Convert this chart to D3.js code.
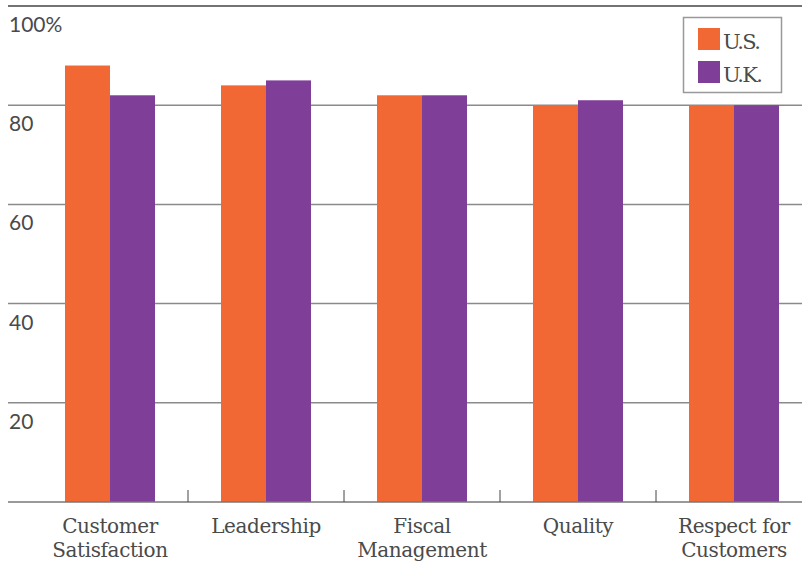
<!DOCTYPE html>
<html>
<head>
<meta charset="utf-8">
<script src="https://cdn.jsdelivr.net/npm/d3@7/dist/d3.min.js"></script>
<style>
  body { margin: 0; background: #fff; }
  svg { display: block; }
  .ylab { font-family: Lato, "Open Sans", sans-serif; font-size: 21px; fill: #4a4a4a; }
  .xlab { font-family: "DejaVu Serif", serif; font-size: 20px; fill: #4a4a4a; letter-spacing: -0.4px; }
  .leg { font-family: "DejaVu Serif", serif; font-size: 21px; fill: #4a4a4a; letter-spacing: -1.6px; }
</style>
</head>
<body>
<div id="chart"></div>
<script>
// data
var categories = [["Customer", "Satisfaction"], ["Leadership"], ["Fiscal", "Management"], ["Quality"], ["Respect for", "Customers"]];
var seriesNames = ["U.S.", "U.K."];
var usValues = [88, 84, 82, 80, 80];
var ukValues = [82, 85, 82, 81, 80];
var yTicks = [20, 40, 60, 80, 100];
var colors = ["#f26835", "#7f3f98"];

var width = 802, height = 561;
var svg = d3.select("#chart").append("svg").attr("width", width).attr("height", height);

var x = d3.scaleBand().domain(d3.range(categories.length)).range([32, 812]);
var y = d3.scaleLinear().domain([0, 100]).range([502, 6]);
var inner = d3.scaleBand().domain([0, 1]).range([0, 90]);

// gridlines
svg.append("g").selectAll("line").data(yTicks).enter().append("line")
  .attr("x1", 8).attr("x2", width)
  .attr("y1", function (d) { return y(d); }).attr("y2", function (d) { return y(d); })
  .attr("stroke", function (d) { return d === 100 ? "#444" : "#8a8a8a"; })
  .attr("stroke-width", 1.5);

// bars
var rows = categories.map(function (c, i) { return [usValues[i], ukValues[i]]; });
var groups = svg.append("g").selectAll("g").data(rows).enter().append("g")
  .attr("transform", function (d, i) { return "translate(" + (x(i) + x.bandwidth() / 2 - 45) + ",0)"; });
groups.selectAll("rect").data(function (d) { return d; }).enter().append("rect")
  .attr("x", function (d, j) { return inner(j); })
  .attr("width", inner.bandwidth())
  .attr("y", function (d) { return y(d); })
  .attr("height", function (d) { return y(0) - y(d); })
  .attr("fill", function (d, j) { return colors[j]; });

// x axis baseline and ticks
svg.append("line").attr("x1", 8).attr("x2", width).attr("y1", y(0)).attr("y2", y(0))
  .attr("stroke", "#777").attr("stroke-width", 1.5);
svg.append("g").selectAll("line").data(d3.range(1, categories.length)).enter().append("line")
  .attr("x1", function (i) { return x(i); }).attr("x2", function (i) { return x(i); })
  .attr("y1", y(0) - 12).attr("y2", y(0))
  .attr("stroke", "#444").attr("stroke-width", 1);

// y labels, sitting under their gridline
svg.append("g").selectAll("text").data(yTicks).enter().append("text")
  .attr("class", "ylab")
  .attr("x", 9)
  .attr("y", function (d) { return y(d) + 26; })
  .text(function (d) { return d === 100 ? "100%" : d; });

// category labels
var xl = svg.append("g").selectAll("text").data(categories).enter().append("text")
  .attr("class", "xlab")
  .attr("text-anchor", "middle")
  .attr("x", function (d, i) { return x(i) + x.bandwidth() / 2; })
  .attr("y", 533);
xl.selectAll("tspan").data(function (d) { return d; }).enter().append("tspan")
  .attr("x", function () { return d3.select(this.parentNode).attr("x"); })
  .attr("dy", function (d, k) { return k === 0 ? 0 : 24; })
  .text(function (d) { return d; });

// legend
var leg = svg.append("g");
leg.append("rect").attr("x", 683.5).attr("y", 17.5).attr("width", 98).attr("height", 75)
  .attr("fill", "#fff").attr("stroke", "#999").attr("stroke-width", 1.5);
seriesNames.forEach(function (s, j) {
  leg.append("rect").attr("x", 698).attr("y", 28 + j * 33).attr("width", 22).attr("height", 22).attr("fill", colors[j]);
  leg.append("text").attr("class", "leg").attr("x", 723).attr("y", 49 + j * 33).text(s);
});
</script>
</body>
</html>
